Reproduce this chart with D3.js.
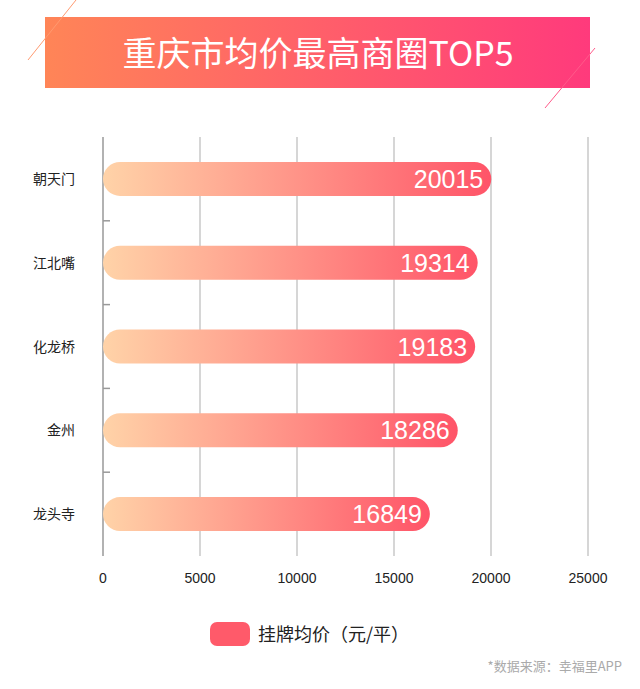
<!DOCTYPE html>
<html>
<head>
<script src="https://cdn.jsdelivr.net/npm/d3@7/dist/d3.min.js"></script>
<style>
body { margin: 0; background: #fff; font-family: "Noto Sans CJK SC", "Liberation Sans", sans-serif; }
</style>
</head>
<body>
<svg id="chart" width="640" height="689"></svg>
<script>
var categories = ['朝天门', '江北嘴', '化龙桥', '金州', '龙头寺'];
var values = [20015, 19314, 19183, 18286, 16849];
var xTicks = [0, 5000, 10000, 15000, 20000, 25000];

var svg = d3.select('#chart');
var defs = svg.append('defs');

var tg = defs.append('linearGradient').attr('id', 'titleGrad');
tg.append('stop').attr('offset', '0%').attr('stop-color', '#ff8557');
tg.append('stop').attr('offset', '100%').attr('stop-color', '#ff3a7c');

var bg = defs.append('linearGradient').attr('id', 'barGrad');
bg.append('stop').attr('offset', '0%').attr('stop-color', '#ffd3a8');
bg.append('stop').attr('offset', '100%').attr('stop-color', '#ff5468');

// title banner
svg.append('rect').attr('x', 45).attr('y', 17).attr('width', 545).attr('height', 71)
  .attr('fill', 'url(#titleGrad)');
svg.append('line').attr('x1', 76).attr('y1', 0).attr('x2', 28).attr('y2', 60)
  .attr('stroke', '#ff9a70').attr('stroke-width', 1);
svg.append('line').attr('x1', 595).attr('y1', 48).attr('x2', 545).attr('y2', 108)
  .attr('stroke', '#ff5a8a').attr('stroke-width', 1);
svg.append('text').attr('x', 318).attr('y', 66).attr('text-anchor', 'middle')
  .attr('fill', '#fff').attr('font-size', 34).text('重庆市均价最高商圈TOP5');

var pLeft = 103, pRight = 588, pTop = 137, pBottom = 556;
var x = d3.scaleLinear().domain([0, 25000]).range([pLeft, pRight]);
var band = d3.scaleBand().domain(categories).range([pTop, pBottom]);

// grid
svg.selectAll('.grid').data(xTicks.slice(1)).enter().append('line')
  .attr('x1', function (d) { return x(d); }).attr('x2', function (d) { return x(d); })
  .attr('y1', pTop).attr('y2', pBottom).attr('stroke', '#c8c8c8').attr('stroke-width', 1.5);

// y axis
svg.append('line').attr('x1', pLeft).attr('x2', pLeft).attr('y1', pTop).attr('y2', pBottom)
  .attr('stroke', '#999').attr('stroke-width', 1.5);
svg.selectAll('.ytick').data(categories.slice(1)).enter().append('line')
  .attr('x1', pLeft).attr('x2', pLeft + 7)
  .attr('y1', function (d) { return band(d); }).attr('y2', function (d) { return band(d); })
  .attr('stroke', '#999').attr('stroke-width', 1.5);
svg.selectAll('.ylab').data(categories).enter().append('text')
  .attr('x', 75).attr('y', function (d) { return band(d) + band.bandwidth() / 2 + 5; })
  .attr('text-anchor', 'end').attr('font-size', 14).attr('fill', '#222').text(function (d) { return d; });

// x labels
svg.selectAll('.xlab').data(xTicks).enter().append('text')
  .attr('x', function (d) { return x(d); }).attr('y', 583)
  .attr('text-anchor', 'middle').attr('font-size', 14).attr('fill', '#222')
  .attr('font-family', 'Liberation Sans, sans-serif').text(function (d) { return d; });

// bars
var data = categories.map(function (c, i) { return { name: c, value: values[i] }; });
var bh = 34;
svg.selectAll('.bar').data(data).enter().append('rect')
  .attr('x', x(0)).attr('y', function (d) { return band(d.name) + band.bandwidth() / 2 - bh / 2; })
  .attr('width', function (d) { return x(d.value) - x(0); }).attr('height', bh)
  .attr('rx', bh / 2).attr('fill', 'url(#barGrad)');
svg.selectAll('.val').data(data).enter().append('text')
  .attr('x', function (d) { return x(d.value) - 8; })
  .attr('y', function (d) { return band(d.name) + band.bandwidth() / 2 + 9; })
  .attr('text-anchor', 'end').attr('fill', '#fff').attr('font-size', 25)
  .attr('font-family', 'Liberation Sans, sans-serif').text(function (d) { return d.value; });

// legend
svg.append('rect').attr('x', 210).attr('y', 622).attr('width', 40).attr('height', 24)
  .attr('rx', 7).attr('fill', '#ff5a6a');
svg.append('text').attr('x', 258).attr('y', 641).attr('font-size', 18).attr('fill', '#222')
  .text('挂牌均价（元/平）');

svg.append('text').attr('x', 622).attr('y', 671).attr('text-anchor', 'end')
  .attr('font-size', 13).attr('fill', '#aaa').text('*数据来源：幸福里APP');
</script>
</body>
</html>
